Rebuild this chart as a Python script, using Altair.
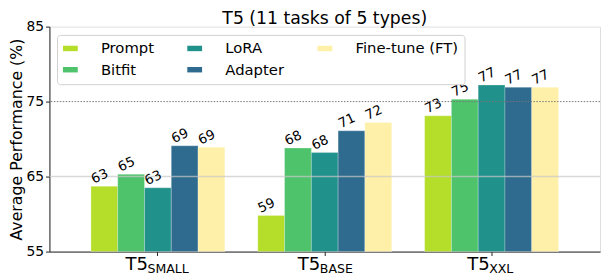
import altair as alt
import pandas as pd

# ---- data ----
models = ["T5-SMALL", "T5-BASE", "T5-XXL"]
model_main = ["T5", "T5", "T5"]
model_sub = ["SMALL", "BASE", "XXL"]
methods = ["Prompt", "Bitfit", "LoRA", "Adapter", "Fine-tune (FT)"]

prompt = [63.7, 59.8, 73.1]
bitfit = [65.3, 68.8, 75.3]
lora = [63.5, 68.2, 77.2]
adapter = [69.1, 71.1, 76.9]
finetune = [68.9, 72.2, 76.9]

prompt_lbl = [63, 59, 73]
bitfit_lbl = [65, 68, 75]
lora_lbl = [63, 68, 77]
adapter_lbl = [69, 71, 77]
finetune_lbl = [69, 72, 77]

y_ticks = [55, 65, 75, 85]
title_text = "T5 (11 tasks of 5 types)"
y_title = "Average Performance (%)"

# ---- tables ----
series = [prompt, bitfit, lora, adapter, finetune]
series_lbl = [prompt_lbl, bitfit_lbl, lora_lbl, adapter_lbl, finetune_lbl]
rows = []
for m, vals, lbls in zip(methods, series, series_lbl):
    for mod, v, l in zip(models, vals, lbls):
        rows.append({"model": mod, "method": m, "value": v, "label": str(l)})
df = pd.DataFrame(rows)

lab_df = pd.DataFrame({"model": models, "main": model_main, "sub": model_sub})
title_df = pd.DataFrame({"t": [title_text]})

colors = {
    "Prompt": "#b5de2b",
    "Bitfit": "#4ec36b",
    "LoRA": "#21918c",
    "Adapter": "#2e6b8e",
    "Fine-tune (FT)": "#fef0a8",
}

FONT = "DejaVu Sans"
W, H = 558, 228

xscale = alt.Scale(paddingInner=0, paddingOuter=0.15)
yscale = alt.Scale(domain=[55, 85], zero=False, nice=False)

x_enc = alt.X("model:N", sort=models, scale=xscale,
              axis=alt.Axis(title=None, labels=False, ticks=True, tickSize=4,
                            tickColor="#222", domainColor="#222", domainWidth=1))
xoff_enc = alt.XOffset("method:N", sort=methods,
                       scale=alt.Scale(paddingInner=0, paddingOuter=0.615))

base = alt.Chart(df)

bars = base.mark_bar(stroke="white", strokeWidth=0.4, strokeOpacity=0.6).encode(
    x=x_enc,
    xOffset=xoff_enc,
    y=alt.Y("value:Q", scale=yscale,
            axis=alt.Axis(values=y_ticks, grid=False, title=y_title,
                          labelFontSize=14, labelFont=FONT, labelColor="black",
                          tickSize=4, tickColor="#222", labelPadding=2,
                          domainColor="#222", domainWidth=1,
                          titleFont=FONT, titleFontSize=16, titleFontWeight="normal",
                          titleColor="black", titleAngle=270, titleX=-33,
                          titleY=H / 2, titleAlign="center", titleBaseline="middle")),
    y2=alt.datum(55),
    color=alt.Color("method:N",
                    scale=alt.Scale(domain=methods,
                                    range=[colors[k] for k in methods]),
                    legend=alt.Legend(orient="none", legendX=7.7, legendY=8.4,
                                      columns=3, title=None,
                                      symbolType="M-1.5,-0.55h3v1.1h-3z",
                                      symbolSize=100, symbolStrokeWidth=0,
                                      symbolOpacity=1,
                                      labelFont=FONT, labelFontSize=15,
                                      labelColor="black",
                                      labelOffset=23.5, columnPadding=33,
                                      rowPadding=5.8, padding=6,
                                      strokeColor="#d0d0d0", fillColor="white",
                                      cornerRadius=3)),
)

bar_labels = base.mark_text(angle=335, align="center", baseline="middle",
                            dy=-11, fontSize=13.5, font=FONT, color="black").encode(
    x=alt.X("model:N", sort=models, scale=xscale),
    xOffset=xoff_enc,
    y=alt.Y("value:Q", scale=yscale),
    text="label:N",
)

rule65 = alt.Chart(pd.DataFrame({"y": [y_ticks[1]]})).mark_rule(
    color="#c8c8c8", strokeWidth=1.5, opacity=0.7).encode(
    y=alt.Y("y:Q", scale=yscale))
rule75 = alt.Chart(pd.DataFrame({"y": [y_ticks[2]]})).mark_rule(
    color="#777777", strokeWidth=1, strokeDash=[1.5, 1.5]).encode(
    y=alt.Y("y:Q", scale=yscale))

title_mark = alt.Chart(title_df).mark_text(
    align="center", baseline="alphabetic", fontSize=17.5, font=FONT,
    color="black").encode(x=alt.value(W / 2), y=alt.value(-3), text="t:N")

# x labels "T5" with subscript
split = {"T5-SMALL": -10.5, "T5-BASE": -5.0, "T5-XXL": -2.4}
xlab_layers = []
for mod in models:
    d = alt.Chart(lab_df[lab_df["model"] == mod])
    xlab_layers.append(d.mark_text(align="right", baseline="alphabetic",
                                   fontSize=18.3, font=FONT, color="black",
                                   dx=split[mod] + 0.5).encode(
        x=alt.X("model:N", sort=models, scale=xscale),
        y=alt.value(H + 18.7), text="main:N"))
    xlab_layers.append(d.mark_text(align="left", baseline="alphabetic",
                                   fontSize=12.7, font=FONT, color="black",
                                   dx=split[mod]).encode(
        x=alt.X("model:N", sort=models, scale=xscale),
        y=alt.value(H + 21.5), text="sub:N"))

chart = alt.layer(bars, rule65, rule75, bar_labels, title_mark, *xlab_layers).properties(
    width=W, height=H,
    padding={"left": 42, "top": 17, "right": 2, "bottom": 30},
    autosize=alt.AutoSizeParams(type="none"),
).configure_view(stroke="#222", strokeWidth=1).configure(background="white")

chart.save("out.html", embed_options={"renderer": "svg", "actions": False})
